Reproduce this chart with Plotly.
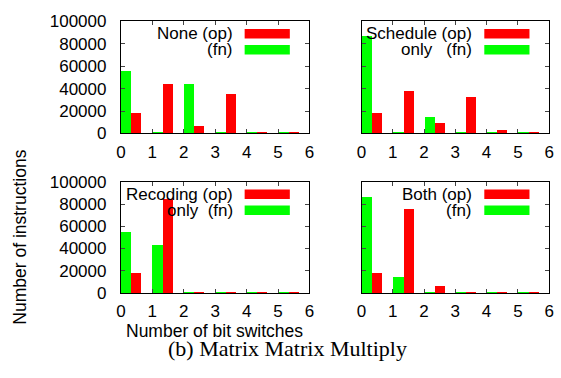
import plotly.graph_objects as go

W, H = 561, 378

bit_switches = [0, 1, 2, 3, 4, 5]
x_ticks = [0, 1, 2, 3, 4, 5, 6]
y_ticks = [0, 20000, 40000, 60000, 80000, 100000]
y_tick_labels = ["0", "20000", "40000", "60000", "80000", "100000"]

panel_names = ["None", "Schedule", "Recoding", "Both"]
legend_op = ["None (op)", "Schedule (op)", "Recoding (op)", "Both (op)"]
legend_fn = ["(fn)", "only   (fn)", "only  (fn)", "(fn)"]

none_op = [17700, 44000, 6000, 34900, 300, 200]
none_fn = [55400, 500, 43400, 500, 300, 300]
schedule_op = [17600, 37800, 8800, 31800, 3100, 300]
schedule_fn = [86600, 500, 14500, 500, 300, 300]
recoding_op = [17900, 85000, 300, 300, 300, 300]
recoding_fn = [55400, 43750, 300, 300, 300, 300]
both_op = [17900, 75900, 6000, 300, 300, 300]
both_fn = [86900, 14800, 300, 300, 300, 300]

op_series = [none_op, schedule_op, recoding_op, both_op]
fn_series = [none_fn, schedule_fn, recoding_fn, both_fn]

RED = "#ff0000"
GREEN = "#00ff00"
FONT = "Liberation Sans"
FS = 17

# panel pixel boxes (left, right, top, bottom)
boxes = [(118, 310, 13, 131), (363, 554, 13, 131),
         (118, 310, 182, 299), (363, 554, 182, 299)]

fig = go.Figure()
layout = dict(width=W, height=H, margin=dict(l=0, r=0, t=0, b=0),
              plot_bgcolor="white", paper_bgcolor="white",
              showlegend=False, bargap=0, barmode="overlay",
              font=dict(family=FONT, size=FS, color="black"))
annotations = []
shapes = []

for i in range(4):
    l, r, t, b = boxes[i]
    xa = "xaxis" if i == 0 else f"xaxis{i+1}"
    ya = "yaxis" if i == 0 else f"yaxis{i+1}"
    xr = "x" if i == 0 else f"x{i+1}"
    yr = "y" if i == 0 else f"y{i+1}"
    fig.add_trace(go.Bar(x=bit_switches, y=fn_series[i], offset=0, width=0.33,
                         marker=dict(color=GREEN, line=dict(width=0)),
                         xaxis=xr, yaxis=yr, name=legend_fn[i]))
    fig.add_trace(go.Bar(x=bit_switches, y=op_series[i], offset=0.33, width=0.32,
                         marker=dict(color=RED, line=dict(width=0)),
                         xaxis=xr, yaxis=yr, name=legend_op[i]))
    layout[xa] = dict(domain=[l / W, r / W], anchor=yr, range=[0, 6],
                      tickmode="array", tickvals=x_ticks, ticks="inside",
                      ticklen=4, showline=True, linecolor="black", linewidth=1,
                      mirror="allticks", showgrid=False, zeroline=False,
                      tickfont=dict(size=FS), ticklabelstandoff=3,
                      ticklabeloverflow="allow")
    layout[ya] = dict(domain=[1 - b / H, 1 - t / H], anchor=xr, range=[0, 100000],
                      tickmode="array", tickvals=y_ticks, ticktext=y_tick_labels,
                      ticks="inside",
                      ticklen=4, showline=True, linecolor="black", linewidth=1,
                      mirror="allticks", showgrid=False, zeroline=False,
                      showticklabels=(i % 2 == 0), tickfont=dict(size=FS),
                      ticklabelstandoff=10, ticklabeloverflow="allow")
    # key
    for k, (txt, col) in enumerate([(legend_op[i], RED), (legend_fn[i], GREEN)]):
        yc = t + 13 + 17 * k
        annotations.append(dict(text=txt, xref="paper", yref="paper",
                                x=(r - 76) / W, y=1 - yc / H, xanchor="right",
                                yanchor="middle", showarrow=False,
                                font=dict(family=FONT, size=FS)))
        shapes.append(dict(type="rect", xref="paper", yref="paper",
                           x0=(r - 66) / W, x1=(r - 20) / W,
                           y0=1 - (yc + 5) / H, y1=1 - (yc - 5) / H,
                           fillcolor=col, line=dict(width=0)))

annotations.append(dict(text="Number of instructions", xref="paper", yref="paper",
                        x=15 / W, y=1 - 240 / H, textangle=-90, showarrow=False,
                        xanchor="center", yanchor="middle",
                        font=dict(family=FONT, size=17.5)))
annotations.append(dict(text="Number of bit switches", xref="paper", yref="paper",
                        x=213 / W, y=1 - 339 / H, showarrow=False,
                        xanchor="center", yanchor="middle",
                        font=dict(family=FONT, size=17.5)))
annotations.append(dict(text="(b) Matrix Matrix Multiply", xref="paper", yref="paper",
                        x=288 / W, y=1 - 357 / H, showarrow=False,
                        xanchor="center", yanchor="middle",
                        font=dict(family="Liberation Serif", size=22)))

layout["annotations"] = annotations
layout["shapes"] = shapes
fig.update_layout(**layout)
fig.write_html("out.html", config={"displayModeBar": False},
               post_script="document.body.style.margin='0';document.body.style.overflow='hidden';")
